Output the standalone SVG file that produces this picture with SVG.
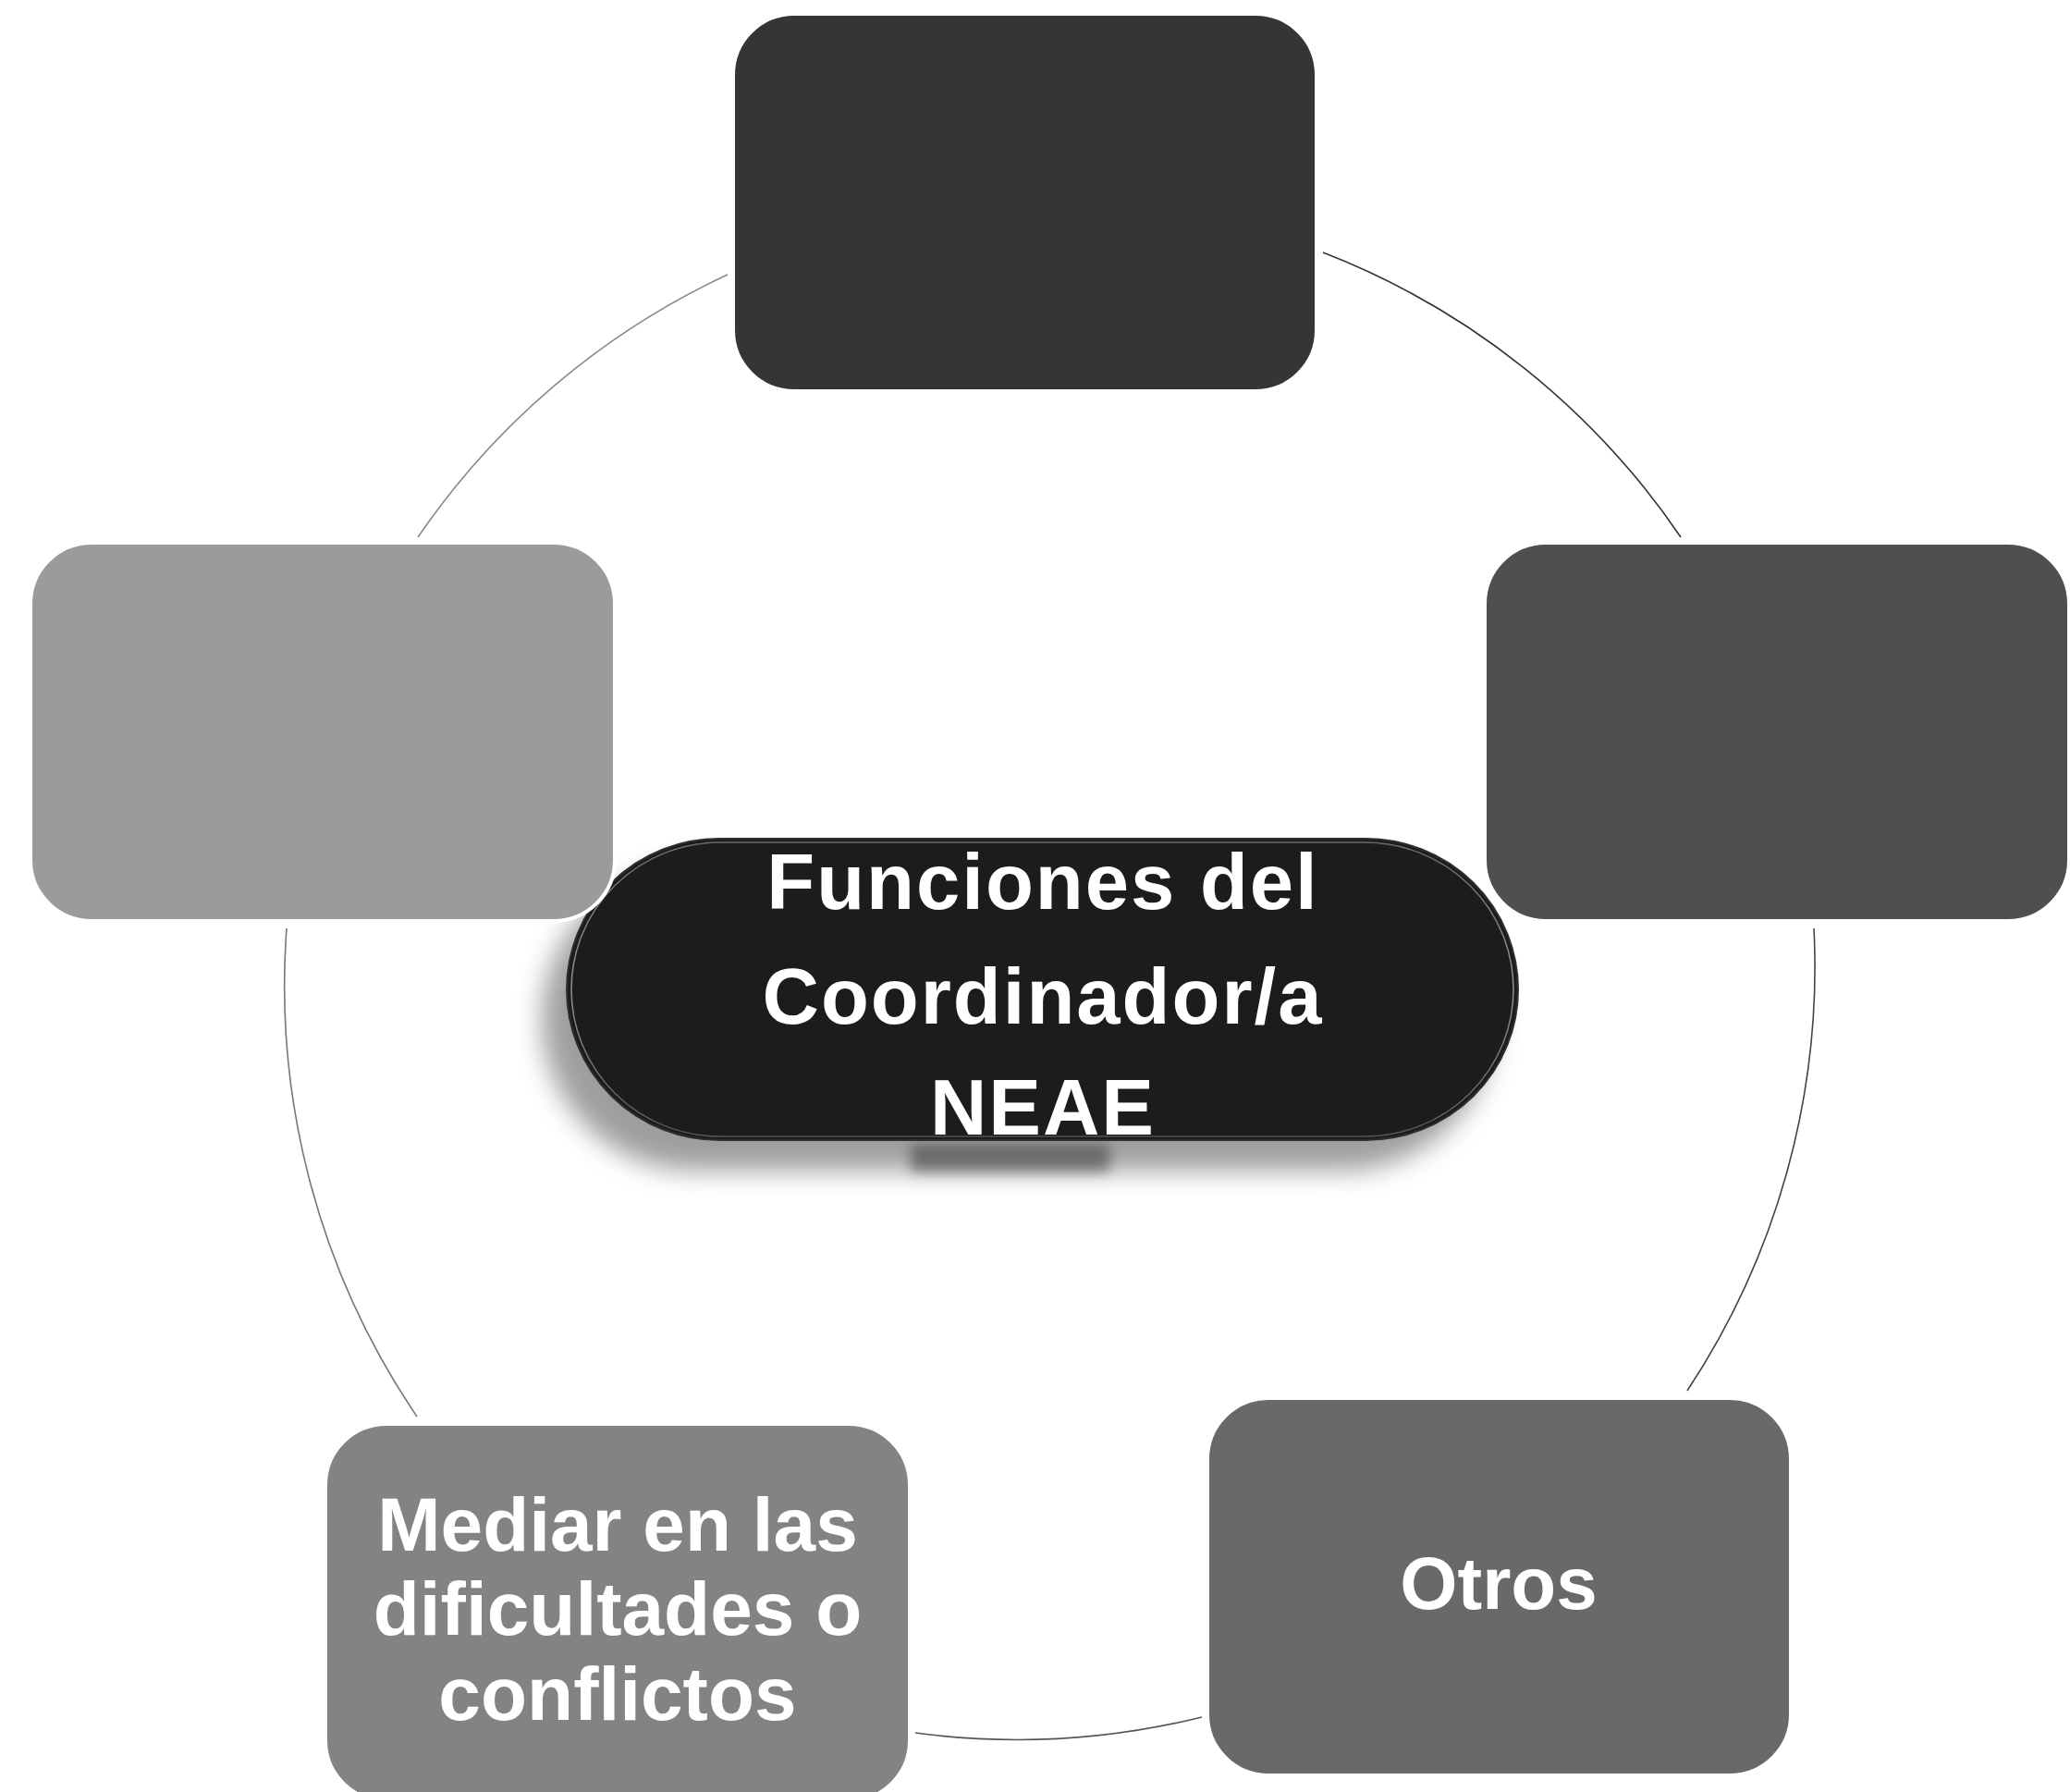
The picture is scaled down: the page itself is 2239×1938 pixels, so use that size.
<svg xmlns="http://www.w3.org/2000/svg" width="2239" height="1938" viewBox="0 0 2239 1938">
<style>
.arc{fill:none;stroke-width:1.6}
.box{stroke:#ffffff;stroke-width:4}
.lbl{font-family:"Liberation Sans",Arial,sans-serif;font-weight:bold;fill:#ffffff;text-anchor:middle}
</style>
<defs>
<filter id="shadow" x="-20%" y="-30%" width="140%" height="170%">
<feGaussianBlur in="SourceAlpha" stdDeviation="14"/>
<feOffset dx="-26" dy="32" result="b"/>
<feFlood flood-color="#000000" flood-opacity="0.38"/>
<feComposite in2="b" operator="in"/>
<feMerge><feMergeNode/><feMergeNode in="SourceGraphic"/></feMerge>
</filter>
<filter id="blur" x="-30%" y="-100%" width="160%" height="300%">
<feGaussianBlur stdDeviation="7"/>
</filter>
<linearGradient id="rim" x1="0" y1="0" x2="0" y2="1">
<stop offset="0" stop-color="#8a8a8a"/>
<stop offset="0.5" stop-color="#c4c4c4"/>
<stop offset="1" stop-color="#6a6a6a"/>
</linearGradient>
</defs>
<rect width="2239" height="1938" fill="#ffffff"/>
<g id="connectors">
<path class="arc" stroke="#333333" d="M1431,273 A830,830 0 0 1 1818,581"/>
<path class="arc" stroke="#444444" d="M1962,1004 A830,830 0 0 1 1825,1504"/>
<path class="arc" stroke="#555555" d="M1300,1857 A830,830 0 0 1 990,1874"/>
<path class="arc" stroke="#777777" d="M451,1532 A830,830 0 0 1 310,1004"/>
<path class="arc" stroke="#8a8a8a" d="M452,581 A830,830 0 0 1 787,297"/>
</g>
<g id="center">
<rect x="985" y="1238" width="215" height="30" fill="#a0a0a0" filter="url(#blur)"/>
<rect x="613" y="907" width="1029" height="326" rx="165" ry="163" fill="#1e1e1e" stroke="#2e2e2e" stroke-width="2" filter="url(#shadow)"/>
<rect x="618" y="911" width="1019" height="318" rx="161" ry="159" fill="none" stroke="url(#rim)" stroke-width="1.5" opacity="0.7"/>
<text class="lbl" font-size="85" letter-spacing="2"><tspan x="1128" y="983">Funciones del</tspan><tspan x="1128" y="1107">Coordinador/a</tspan><tspan x="1128" y="1227">NEAE</tspan></text>
</g>
<g id="node-top">
<rect class="box" x="793" y="15" width="631" height="408" rx="66" fill="#353535"/>
</g>
<g id="node-right">
<rect class="box" x="1606" y="587" width="632" height="409" rx="66" fill="#4f4f4f"/>
</g>
<g id="node-bottom-right">
<rect class="box" x="1306" y="1512" width="631" height="408" rx="66" fill="#696969"/>
<text class="lbl" font-size="80" x="1621" y="1740">Otros</text>
</g>
<g id="node-bottom-left">
<rect class="box" x="352" y="1540" width="632" height="408" rx="66" fill="#838383"/>
<text class="lbl" font-size="82"><tspan x="668" y="1677">Mediar en las</tspan><tspan x="668" y="1768">dificultades o</tspan><tspan x="668" y="1860">conflictos</tspan></text>
</g>
<g id="node-left">
<rect class="box" x="33" y="587" width="632" height="409" rx="66" fill="#9b9b9b"/>
</g>
</svg>
